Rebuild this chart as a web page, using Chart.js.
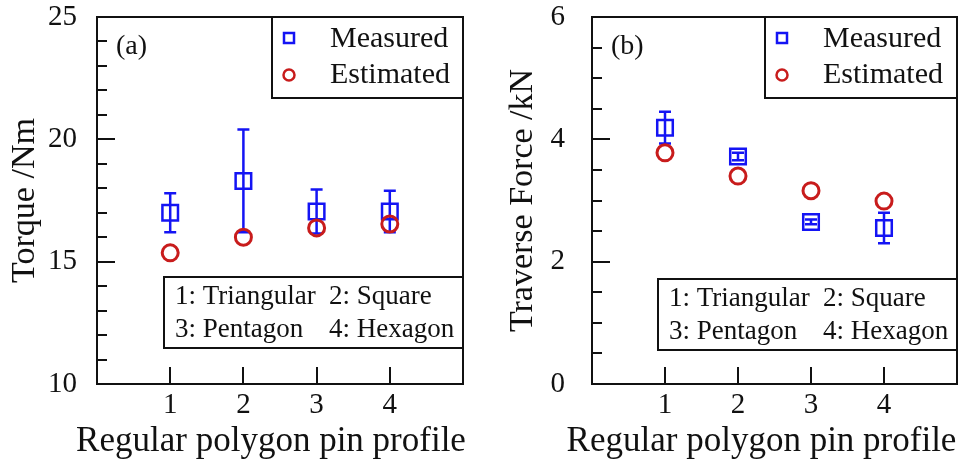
<!DOCTYPE html>
<html>
<head>
<meta charset="utf-8">
<script src="https://cdn.jsdelivr.net/npm/chart.js@4.4.1/dist/chart.umd.min.js"></script>
<style>
  html, body { margin: 0; padding: 0; background: #fff; }
  .panel { position: absolute; top: 0; width: 480px; height: 464px; }
</style>
</head>
<body>
<div class="panel" style="left:0"><canvas id="torqueChart" width="480" height="464"></canvas></div>
<div class="panel" style="left:480px"><canvas id="forceChart" width="480" height="464"></canvas></div>
<script>
// pin profiles on the x axis
const categories = [1, 2, 3, 4];
const profileNames = ['Triangular', 'Square', 'Pentagon', 'Hexagon'];
const xTitle = 'Regular polygon pin profile';

// (a) torque, Nm
const torqueMeasured = [17.0, 18.3, 17.05, 17.05];
const torqueError = [0.8, 2.1, 0.9, 0.85];
const torqueEstimated = [15.36, 16.0, 16.38, 16.54];
const torqueTicks = [10, 15, 20, 25];

// (b) traverse force, kN
const forceMeasured = [4.19, 3.72, 2.65, 2.55];
const forceError = [0.26, 0.06, 0.04, 0.25];
const forceEstimated = [3.78, 3.40, 3.16, 2.99];
const forceTicks = [0, 2, 4, 6];

const BLUE = '#1414f4';
const RED = '#c81c1c';
const SERIF = '"Liberation Serif", "Times New Roman", serif';

function toPoints(values) {
    return categories.map((c, i) => ({ x: c, y: values[i] }));
}

// inner ticks, frame, error bars, legends, x title and panel letter
function panelPlugin(o) {
    return {
        id: 'panelDeco',
        beforeDatasetsDraw(chart) {
            const ctx = chart.ctx;
            const xs = chart.scales.x, ys = chart.scales.y;
            const vals = chart.data.datasets[1].data;
            ctx.save();
            ctx.strokeStyle = BLUE;
            ctx.lineWidth = 2.5;
            vals.forEach((p, i) => {
                const e = o.errors[i];
                const x = xs.getPixelForValue(p.x);
                const yt = ys.getPixelForValue(p.y + e);
                const yb = ys.getPixelForValue(p.y - e);
                ctx.beginPath();
                ctx.moveTo(x, yt); ctx.lineTo(x, yb);
                ctx.moveTo(x - 6, yt); ctx.lineTo(x + 6, yt);
                ctx.moveTo(x - 6, yb); ctx.lineTo(x + 6, yb);
                ctx.stroke();
            });
            ctx.restore();
        },
        afterDraw(chart) {
            const ctx = chart.ctx;
            const a = chart.chartArea;
            const xs = chart.scales.x, ys = chart.scales.y;
            ctx.save();
            ctx.strokeStyle = '#111';
            ctx.lineWidth = 2;
            // minor / major ticks, pointing inwards
            ctx.beginPath();
            for (let v = ys.min; v <= ys.max + 1e-9; v += o.minorStep) {
                const y = Math.round(ys.getPixelForValue(v));
                const major = Math.abs(v / o.majorStep - Math.round(v / o.majorStep)) < 1e-6;
                ctx.moveTo(a.left, y);
                ctx.lineTo(a.left + (major ? 18 : 10), y);
            }
            categories.forEach(c => {
                const x = Math.round(xs.getPixelForValue(c));
                ctx.moveTo(x, a.bottom);
                ctx.lineTo(x, a.bottom - 17);
            });
            ctx.stroke();
            ctx.strokeRect(a.left, a.top, a.right - a.left, a.bottom - a.top);

            // x axis title (wider than the plot, so drawn here)
            ctx.fillStyle = '#111';
            ctx.textBaseline = 'middle';
            ctx.textAlign = 'center';
            ctx.font = '35px ' + SERIF;
            ctx.fillText(xTitle, (a.left + a.right) / 2 - o.titleShift, 442);

            // panel letter
            ctx.textAlign = 'left';
            ctx.font = '28px ' + SERIF;
            ctx.fillText(o.letter, a.left + 19, a.top + 30);

            // series legend
            const lb = { x: a.right - o.legendWidth, y: a.top, w: o.legendWidth, h: 81 };
            ctx.fillStyle = '#fff';
            ctx.fillRect(lb.x, lb.y, lb.w, lb.h);
            ctx.strokeRect(lb.x, lb.y, lb.w, lb.h);
            ctx.lineWidth = 2.5;
            ctx.strokeStyle = BLUE;
            ctx.strokeRect(lb.x + 12, lb.y + 16, 10, 10);
            ctx.strokeStyle = RED;
            ctx.beginPath();
            ctx.arc(lb.x + 17, lb.y + 58, 5.5, 0, Math.PI * 2);
            ctx.stroke();
            ctx.fillStyle = '#111';
            ctx.font = '30px ' + SERIF;
            ctx.fillText(chart.data.datasets[1].label, lb.x + 58, lb.y + 22);
            ctx.fillText(chart.data.datasets[0].label, lb.x + 58, lb.y + 58);

            // profile key
            const kb = { x: a.right - o.keyWidth, y: o.keyTop, w: o.keyWidth, h: 71 };
            ctx.lineWidth = 2;
            ctx.strokeStyle = '#111';
            ctx.fillStyle = '#fff';
            ctx.fillRect(kb.x, kb.y, kb.w, kb.h);
            ctx.strokeRect(kb.x, kb.y, kb.w, kb.h);
            ctx.fillStyle = '#111';
            ctx.font = '27px ' + SERIF;
            profileNames.forEach((n, i) => {
                const col = i % 2, row = Math.floor(i / 2);
                ctx.fillText(categories[i] + ': ' + n, kb.x + 11 + col * 154, kb.y + 20 + row * 33);
            });
            ctx.restore();
        }
    };
}

function makeChart(id, cfg) {
    const tickFont = { family: SERIF, size: 29 };
    return new Chart(document.getElementById(id), {
        type: 'scatter',
        data: {
            datasets: [{
                label: 'Estimated',
                data: toPoints(cfg.estimated),
                pointStyle: 'circle',
                pointRadius: 8,
                pointBorderWidth: 3,
                borderColor: RED,
                backgroundColor: 'transparent'
            }, {
                label: 'Measured',
                data: toPoints(cfg.measured),
                pointStyle: 'rect',
                pointRadius: 11,
                pointBorderWidth: 2.5,
                borderColor: BLUE,
                backgroundColor: 'transparent'
            }]
        },
        options: {
            responsive: false,
            animation: false,
            layout: { autoPadding: false, padding: { top: 17, right: cfg.padRight, left: 0, bottom: 0 } },
            plugins: { legend: { display: false }, tooltip: { enabled: false } },
            scales: {
                x: {
                    type: 'linear', min: 0, max: 5,
                    grid: { display: false },
                    border: { display: false },
                    ticks: {
                        stepSize: 1, autoSkip: false, maxRotation: 0, padding: -4,
                        color: '#111', font: tickFont,
                        callback: v => categories.includes(v) ? String(v) : ''
                    },
                    afterFit(s) { s.height = 80; s.paddingLeft = 0; s.paddingRight = 0; }
                },
                y: {
                    min: cfg.ticks[0], max: cfg.ticks[cfg.ticks.length - 1],
                    grid: { display: false },
                    border: { display: false },
                    afterBuildTicks(s) { s.ticks = cfg.ticks.map(v => ({ value: v })); },
                    ticks: { color: '#111', font: tickFont, padding: cfg.tickPad },
                    title: {
                        display: true, text: cfg.title, color: '#111',
                        font: { family: SERIF, size: 34 }, padding: { top: cfg.titlePad, bottom: 0 }
                    },
                    afterFit(s) { s.width = cfg.axisWidth; s.paddingTop = 0; s.paddingBottom = 0; }
                }
            }
        },
        plugins: [panelPlugin(cfg)]
    });
}

makeChart('torqueChart', {
    measured: torqueMeasured, estimated: torqueEstimated, errors: torqueError,
    ticks: torqueTicks, minorStep: 1, majorStep: 5,
    title: 'Torque /Nm', letter: '(a)',
    axisWidth: 97, padRight: 17, tickPad: 12, titlePad: 5, titleShift: 9,
    legendWidth: 191, keyWidth: 299, keyTop: 277
});

makeChart('forceChart', {
    measured: forceMeasured, estimated: forceEstimated, errors: forceError,
    ticks: forceTicks, minorStep: 0.5, majorStep: 2,
    title: 'Traverse Force /kN', letter: '(b)',
    axisWidth: 112, padRight: 3, tickPad: 19, titlePad: 23, titleShift: 13,
    legendWidth: 192, keyWidth: 299, keyTop: 279
});
</script>
</body>
</html>
